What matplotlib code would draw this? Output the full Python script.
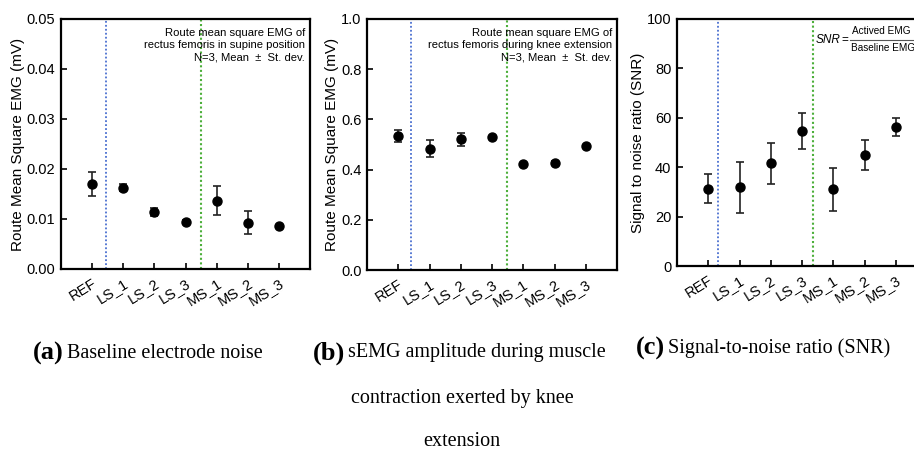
import matplotlib
matplotlib.use("Agg")
import matplotlib.pyplot as plt
from matplotlib.lines import Line2D

categories = ["REF", "LS_1", "LS_2", "LS_3", "MS_1", "MS_2", "MS_3"]

baseline_mean = [0.0170, 0.0163, 0.0114, 0.0095, 0.0137, 0.0093, 0.0086]
baseline_sd = [0.0024, 0.0007, 0.0008, 0.0003, 0.0029, 0.0023, 0.0003]

active_mean = [0.533, 0.484, 0.521, 0.528, 0.421, 0.428, 0.493]
active_sd = [0.023, 0.033, 0.025, 0.007, 0.005, 0.005, 0.007]

snr_mean = [31.3, 31.8, 41.6, 54.7, 31.0, 44.9, 56.3]
snr_sd = [5.9, 10.5, 8.3, 7.2, 8.7, 6.0, 3.8]

W, H = 914, 451
fig = plt.figure(figsize=(W / 100, H / 100), dpi=100)

sans = ["Liberation Sans", "DejaVu Sans"]
serif = ["Liberation Serif", "DejaVu Serif"]

def make_ax(left, top, right, bottom):
    return fig.add_axes([left / W, 1 - bottom / H, (right - left) / W, (bottom - top) / H])

def fx(px):
    return px / W

def fy(py):
    return 1 - py / H

panels = [
    dict(box=(61, 19, 310, 269), mean=baseline_mean, sd=baseline_sd, ylim=(0, 0.05),
         yticks=[0, 0.01, 0.02, 0.03, 0.04, 0.05], fmt="{:.2f}",
         ylabel="Route Mean Square EMG (mV)", vl=(0.45, 3.5),
         note="Route mean square EMG of\nrectus femoris in supine position\nN=3, Mean  \u00b1  St. dev."),
    dict(box=(367, 19, 617, 270), mean=active_mean, sd=active_sd, ylim=(0, 1.0),
         yticks=[0, 0.2, 0.4, 0.6, 0.8, 1.0], fmt="{:.1f}",
         ylabel="Route Mean Square EMG (mV)", vl=(0.42, 3.48),
         note="Route mean square EMG of\nrectus femoris during knee extension\nN=3, Mean  \u00b1  St. dev."),
    dict(box=(677, 19, 927, 266), mean=snr_mean, sd=snr_sd, ylim=(0, 100),
         yticks=[0, 20, 40, 60, 80, 100], fmt="{:.0f}",
         ylabel="Signal to noise ratio (SNR)", vl=(0.31, 3.35), note=None),
]

for p in panels:
    ax = make_ax(*p["box"])
    x = list(range(len(categories)))
    ax.errorbar(x, p["mean"], yerr=p["sd"], fmt="o", color="black", ms=6.5,
                ecolor="#222222", elinewidth=1.2, capsize=3, capthick=1.2, zorder=3)
    ax.axvline(p["vl"][0], color="#4a6fd0", ls=(0, (1, 1.2)), lw=1.3, zorder=1)
    ax.axvline(p["vl"][1], color="#4caf3a", ls=(0, (1, 1.2)), lw=1.5, zorder=1)
    ax.set_xlim(-1, 7)
    ax.set_ylim(*p["ylim"])
    ax.set_yticks(p["yticks"])
    ax.set_yticklabels([p["fmt"].format(v) for v in p["yticks"]], family=sans, fontsize=10.5)
    ax.set_xticks(x)
    ax.set_xticklabels(categories, rotation=32, ha="right", rotation_mode="anchor",
                       family=sans, fontsize=10.5)
    ax.tick_params(direction="in", length=4, width=1.2, pad=4)
    ax.tick_params(axis="x", pad=5)
    for s in ax.spines.values():
        s.set_linewidth(1.6)
    ax.set_ylabel(p["ylabel"], family=sans, fontsize=11, labelpad=1.5)
    if p["note"]:
        ax.text(0.98, 0.965, p["note"], transform=ax.transAxes, ha="right", va="top",
                family=sans, fontsize=8.1, linespacing=1.3)

# SNR formula in panel (c), built from plain texts and a fraction bar
fig.canvas.draw()
renderer = fig.canvas.get_renderer()
t_snr = fig.text(fx(816), fy(40), "SNR", family=sans, fontsize=8.5, style="italic",
                 ha="left", va="center")
bb = t_snr.get_window_extent(renderer=renderer)
t_eq = fig.text((bb.x1 + 0.5) / W, fy(40), "=", family=sans, fontsize=8.5,
                ha="left", va="center")
bb2 = t_eq.get_window_extent(renderer=renderer)
x0 = bb2.x1 + 1.5
t_num = fig.text((x0 + 2) / W, fy(31), "Actived EMG", family=sans, fontsize=7.2,
                 ha="left", va="center")
t_den = fig.text((x0 + 1) / W, fy(48), "Baseline EMG", family=sans, fontsize=7.2,
                 ha="left", va="center")
x1 = max(t_num.get_window_extent(renderer=renderer).x1,
         t_den.get_window_extent(renderer=renderer).x1) + 1
fig.add_artist(Line2D([x0 / W, x1 / W], [fy(39.5), fy(39.5)], color="#555555", lw=0.8,
                      transform=fig.transFigure))

def caption(x, y, label, text):
    t = fig.text(fx(x), fy(y), label, family=serif, fontsize=19, fontweight="bold",
                 ha="left", va="center")
    fig.canvas.draw()
    bb = t.get_window_extent()
    fig.text((bb.x1 + 3) / W, fy(y), text, family=serif, fontsize=14.5,
             ha="left", va="center")

caption(33, 353, "(a)", "Baseline electrode noise")
caption(313, 353, "(b)", "sEMG amplitude during muscle")
fig.text(fx(462), fy(398), "contraction exerted by knee", family=serif, fontsize=14.5,
         ha="center", va="center")
fig.text(fx(462), fy(441), "extension", family=serif, fontsize=14.5,
         ha="center", va="center")
caption(636, 348, "(c)", "Signal-to-noise ratio (SNR)")

fig.savefig("out.png", dpi=100)
